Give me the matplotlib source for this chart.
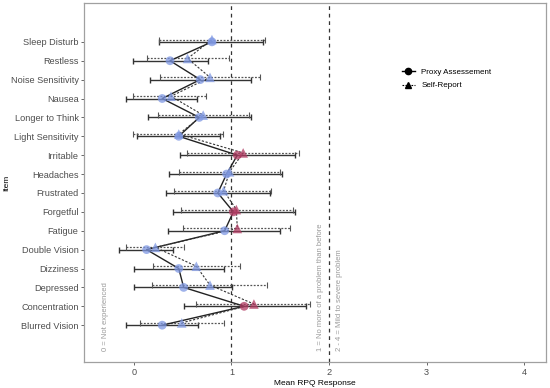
import numpy as np
import matplotlib.pyplot as plt
from matplotlib.lines import Line2D

plt.rcParams['font.family'] = ['Liberation Sans', 'DejaVu Sans']

# items from bottom to top
items = ["Blurred Vision", "Concentration", "Depressed", "Dizziness", "Double Vision",
         "Fatigue", "Forgetful", "Frustrated", "Headaches", "Irritable",
         "Light Sensitivity", "Longer to Think", "Nausea", "Noise Sensitivity",
         "Restless", "Sleep Disturb"]

proxy_mean = [0.29, 1.13, 0.51, 0.46, 0.13, 0.93, 1.02, 0.86, 0.95, 1.06,
              0.46, 0.67, 0.29, 0.68, 0.37, 0.80]
proxy_lo = [-0.08, 0.51, 0.00, 0.00, -0.15, 0.35, 0.40, 0.33, 0.36, 0.47,
            0.03, 0.14, -0.08, 0.17, -0.01, 0.26]
proxy_hi = [0.66, 1.76, 1.01, 0.92, 0.40, 1.50, 1.65, 1.39, 1.52, 1.65,
            0.88, 1.20, 0.65, 1.20, 0.76, 1.32]

self_mean = [0.49, 1.23, 0.78, 0.64, 0.22, 1.06, 1.05, 0.92, 0.98, 1.12,
             0.46, 0.71, 0.38, 0.78, 0.55, 0.80]
self_lo = [0.06, 0.64, 0.19, 0.20, -0.08, 0.50, 0.48, 0.41, 0.46, 0.54,
           -0.01, 0.25, -0.01, 0.27, 0.13, 0.26]
self_hi = [0.92, 1.80, 1.36, 1.09, 0.51, 1.60, 1.63, 1.41, 1.50, 1.69,
           0.91, 1.18, 0.74, 1.29, 0.97, 1.34]

blue = "#7f98e3"
red = "#b23c63"

fig = plt.figure(figsize=(5.5, 3.88), dpi=100)
ax = fig.add_axes([0.153, 0.066, 0.839, 0.925])

y = np.arange(1, len(items) + 1)
ys = y + 0.12

# reference lines
ax.axvline(1, color="#333333", lw=0.9, ls=(0, (3, 3)), zorder=1)
ax.axvline(2, color="#333333", lw=0.9, ls=(0, (3, 3)), zorder=1)

pm = np.array(proxy_mean)
sm = np.array(self_mean)

# error bars
ax.errorbar(pm, y, xerr=[pm - np.array(proxy_lo), np.array(proxy_hi) - pm],
            fmt="none", ecolor="#333333", elinewidth=1.0, capsize=2.2, capthick=1.0, zorder=2)
eb = ax.errorbar(sm, ys, xerr=[sm - np.array(self_lo), np.array(self_hi) - sm],
                 fmt="none", ecolor="#555555", elinewidth=0.9, capsize=2.2, capthick=0.8, zorder=2)
for c in eb[2]:
    c.set_linestyle((0, (1.5, 1.2)))

# connecting lines
ax.plot(pm, y, color="#222222", lw=1.0, zorder=3)
ax.plot(sm, ys, color="#333333", lw=0.8, ls=(0, (2, 1.5)), zorder=3)

# points
pc = [red if v > 1 else blue for v in proxy_mean]
sc = [red if v > 1 else blue for v in self_mean]
ax.scatter(pm, y, s=40, c=pc, marker="o", alpha=0.75, edgecolors="none", zorder=4)
ax.scatter(sm, ys, s=48, c=sc, marker="^", alpha=0.75, edgecolors="none", zorder=4)

# annotations
txt_kw = dict(rotation=90, fontsize=5.5, color="#9a9a9a", ha="center", va="bottom")
ax.text(-0.29, -0.38, "0 = Not experienced", **txt_kw)
ax.text(1.91, -0.38, "1 = No more of a problem than before", **txt_kw)
ax.text(2.11, -0.38, "2 - 4 = Mild to severe problem", **txt_kw)

ax.set_xlim(-0.51, 4.22)
ax.set_ylim(-0.97, 18.03)
ax.set_xticks([0, 1, 2, 3, 4])
ax.set_yticks(y)
ax.set_yticklabels(items)
ax.tick_params(axis="y", labelsize=6.6, colors="#4d4d4d", length=2.5, width=0.6, pad=1.5)
ax.tick_params(axis="x", labelsize=6.6, colors="#4d4d4d", length=2.5, width=0.6, pad=1.5)
for sp in ax.spines.values():
    sp.set_color("#a0a0a0")
    sp.set_linewidth(0.9)
ax.set_xlabel("Mean RPQ Response", fontsize=6, labelpad=2)
ax.set_ylabel("Item", fontsize=6, labelpad=0.5)

handles = [Line2D([0], [0], color="black", lw=1.0, marker="o", markersize=4.5),
           Line2D([0], [0], color="black", lw=0.8, ls=(0, (1.5, 1.2)), marker="^", markersize=5)]
ax.legend(handles, ["Proxy Assessement", "Self-Report"], loc="upper left",
          bbox_to_anchor=(0.673, 0.84), frameon=False, fontsize=5.8,
          handlelength=1.6, handletextpad=0.8, labelspacing=0.75)

fig.savefig("out.png", dpi=100)
